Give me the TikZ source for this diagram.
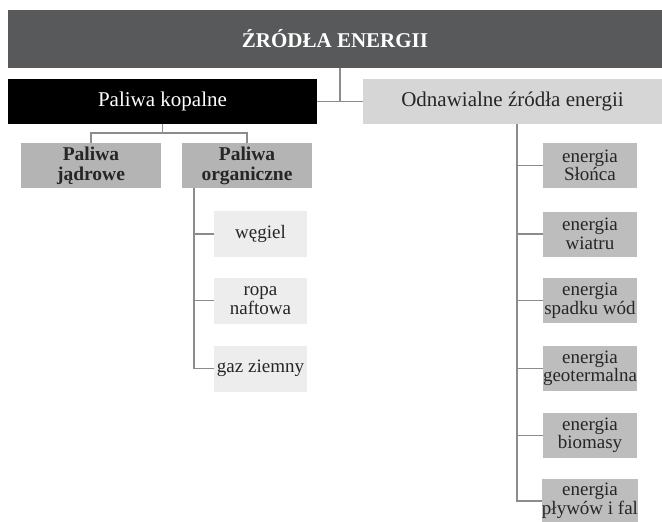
\documentclass[tikz,border=0pt]{standalone}
\usepackage{fontspec}
\setmainfont{Liberation Serif}

\definecolor{darkbar}{HTML}{58595B}
\definecolor{lightbar}{HTML}{D6D6D6}
\definecolor{midbar}{HTML}{B4B4B4}
\definecolor{energybar}{HTML}{BDBDBD}
\definecolor{palebar}{HTML}{EDEDED}
\definecolor{textgray}{HTML}{262626}
\definecolor{linegray}{HTML}{8C8C8C}

\tikzset{
  box/.style = {align=center, inner sep=0pt, text centered, minimum height=45pt},
  titlebox/.style = {box, fill=darkbar, text=white, minimum width=654pt, minimum height=58pt,
    font=\fontsize{21}{21}\selectfont\bfseries},
  mainbox/.style = {box, font=\fontsize{21}{21}\selectfont},
  fossilbox/.style = {mainbox, fill=black, text=white, minimum width=309pt},
  renewbox/.style = {mainbox, fill=lightbar, text=textgray, minimum width=299pt},
  kindbox/.style = {box, fill=midbar, text=textgray, font=\fontsize{19.5}{20}\selectfont\bfseries},
  fuelbox/.style = {box, fill=palebar, text=textgray, minimum width=93pt, minimum height=46pt,
    font=\fontsize{19}{18.5}\selectfont},
  energybox/.style = {box, fill=energybar, text=textgray, minimum width=94pt,
    font=\fontsize{19}{18.5}\selectfont},
  link/.style = {draw=linegray, line width=1.5pt}
}

\begin{document}
\begin{tikzpicture}[x=1pt, y=-1pt]
\useasboundingbox (0,0) rectangle (662,522);

\node [titlebox] (title) at (335,39) {ŹRÓDŁA ENERGII};
\node [fossilbox] (kopalne) at (162.5,101.5) {Paliwa kopalne};
\node [renewbox] (odnawialne) at (512.5,101.5) {Odnawialne źródła energii};

\node [kindbox, minimum width=140pt] (jadrowe) at (91,165.5) {Paliwa\\jądrowe};
\node [kindbox, minimum width=130pt] (organiczne) at (247,165.5) {Paliwa\\organiczne};

\node [fuelbox] (wegiel) at (260.5,234) {węgiel};
\node [fuelbox] (ropa) at (260.5,300.5) {ropa\\naftowa};
\node [fuelbox] (gaz) at (260.5,368.5) {gaz ziemny};

\foreach \name/\ypos/\txt in {slonca/165.5/{energia\\Słońca},
                             wiatr/234/{energia\\wiatru},
                             woda/300.5/{energia\\spadku wód},
                             geo/368.5/{energia\\geotermalna},
                             bio/435.5/{energia\\biomasy},
                             plywy/501/{energia\\pływów i fal}}
  \node [energybox] (\name) at (590,\ypos) {\txt};

% top level
\coordinate (hub) at (340,101.5);
\draw [link] (kopalne.east) -- (odnawialne.west);
\draw [link] (title.south -| hub) -- (hub);

% fossil fuels
\coordinate (split) at (162.5,133);
\draw [link] (kopalne.south) -- (split);
\draw [link] (jadrowe.north) |- (split) -| (organiczne.north);

\coordinate (orgtrunk) at ([xshift=12pt]organiczne.south west);
\draw [link] (orgtrunk) |- (gaz.west);
\foreach \name in {wegiel, ropa}
  \draw [link] (orgtrunk |- \name.west) -- (\name.west);

% renewable sources
\coordinate (oztrunk) at ([xshift=154pt]odnawialne.south west);
\draw [link] (oztrunk) |- (plywy.west);
\foreach \name in {slonca, wiatr, woda, geo, bio}
  \draw [link] (oztrunk |- \name.west) -- (\name.west);
\end{tikzpicture}
\end{document}
